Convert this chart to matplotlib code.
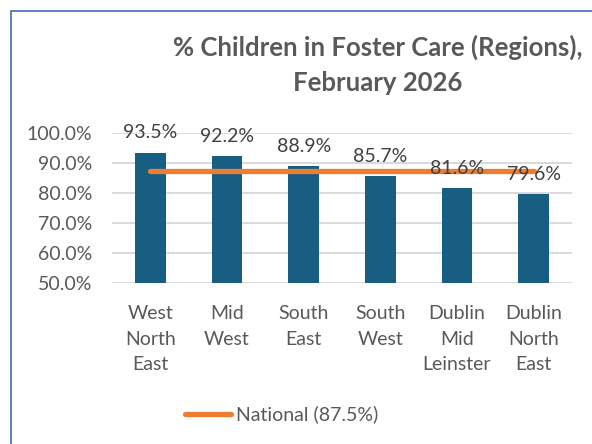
import matplotlib
matplotlib.use("Agg")
import matplotlib.pyplot as plt
from matplotlib.patches import Rectangle
from matplotlib.lines import Line2D

categories = ["West\nNorth\nEast", "Mid\nWest", "South\nEast", "South\nWest",
              "Dublin\nMid\nLeinster", "Dublin\nNorth\nEast"]
values = [93.5, 92.2, 88.9, 85.7, 81.6, 79.6]
national = 87.5
yticks = [50, 60, 70, 80, 90, 100]

BAR = "#175E82"
ORANGE = "#ED7D31"
GRAY = "#595959"
FONT = ["Lato", "DejaVu Sans"]
plt.rcParams["font.family"] = FONT

W, H = 592, 444
fig = plt.figure(figsize=(W / 100, H / 100), dpi=100)
fig.patch.set_facecolor("white")

# outer chart border (cut off at right/bottom)
fig.add_artist(Rectangle((11 / W, -0.1), 2.0, 1 - 11 / H + 0.1, transform=fig.transFigure,
                         fill=False, edgecolor="#3F6DB8", linewidth=1.2))

ax = fig.add_axes([112 / W, 1 - 283 / H, (572 - 112) / W, (283 - 133) / H])
x = list(range(len(categories)))
ax.bar(x, values, width=0.40, color=BAR, zorder=2)
ax.plot([x[0], x[-1]], [national] * 2, color=ORANGE, linewidth=3.8,
        solid_capstyle="round", zorder=3)

for xi, v in zip(x, values):
    ax.annotate(f"{v:.1f}%", (xi, v), xytext=(0, 8), textcoords="offset points",
                ha="center", va="bottom", fontsize=14, color="#404040", zorder=4)

ax.set_xlim(-0.5, len(categories) - 0.5)
ax.set_ylim(50, 100)
ax.set_yticks(yticks)
ax.set_yticklabels([f"{t:.1f}%" for t in yticks], fontsize=14, color=GRAY)
ax.set_xticks(x)
ax.set_xticklabels(categories, fontsize=14, color=GRAY, linespacing=1.6, va="top")
ax.tick_params(axis="both", length=0)
ax.tick_params(axis="y", pad=14)
ax.tick_params(axis="x", pad=16)
ax.grid(axis="y", color="#D9D9D9", linewidth=1.4, zorder=0)
for s in ax.spines.values():
    s.set_visible(False)

fig.text(378 / W, 1 - 65 / H, "% Children in Foster Care (Regions),\nFebruary 2026",
         ha="center", va="center", fontsize=18.5, fontweight="bold", color=GRAY,
         linespacing=1.55)

# legend
fig.add_artist(Line2D([185 / W, 231 / W], [1 - 414 / H] * 2, transform=fig.transFigure,
                      color=ORANGE, linewidth=3.8, solid_capstyle="round"))
fig.text(236 / W, 1 - 414 / H, "National (87.5%)", ha="left", va="center",
         fontsize=14, color=GRAY)

fig.savefig("out.png", dpi=100)
